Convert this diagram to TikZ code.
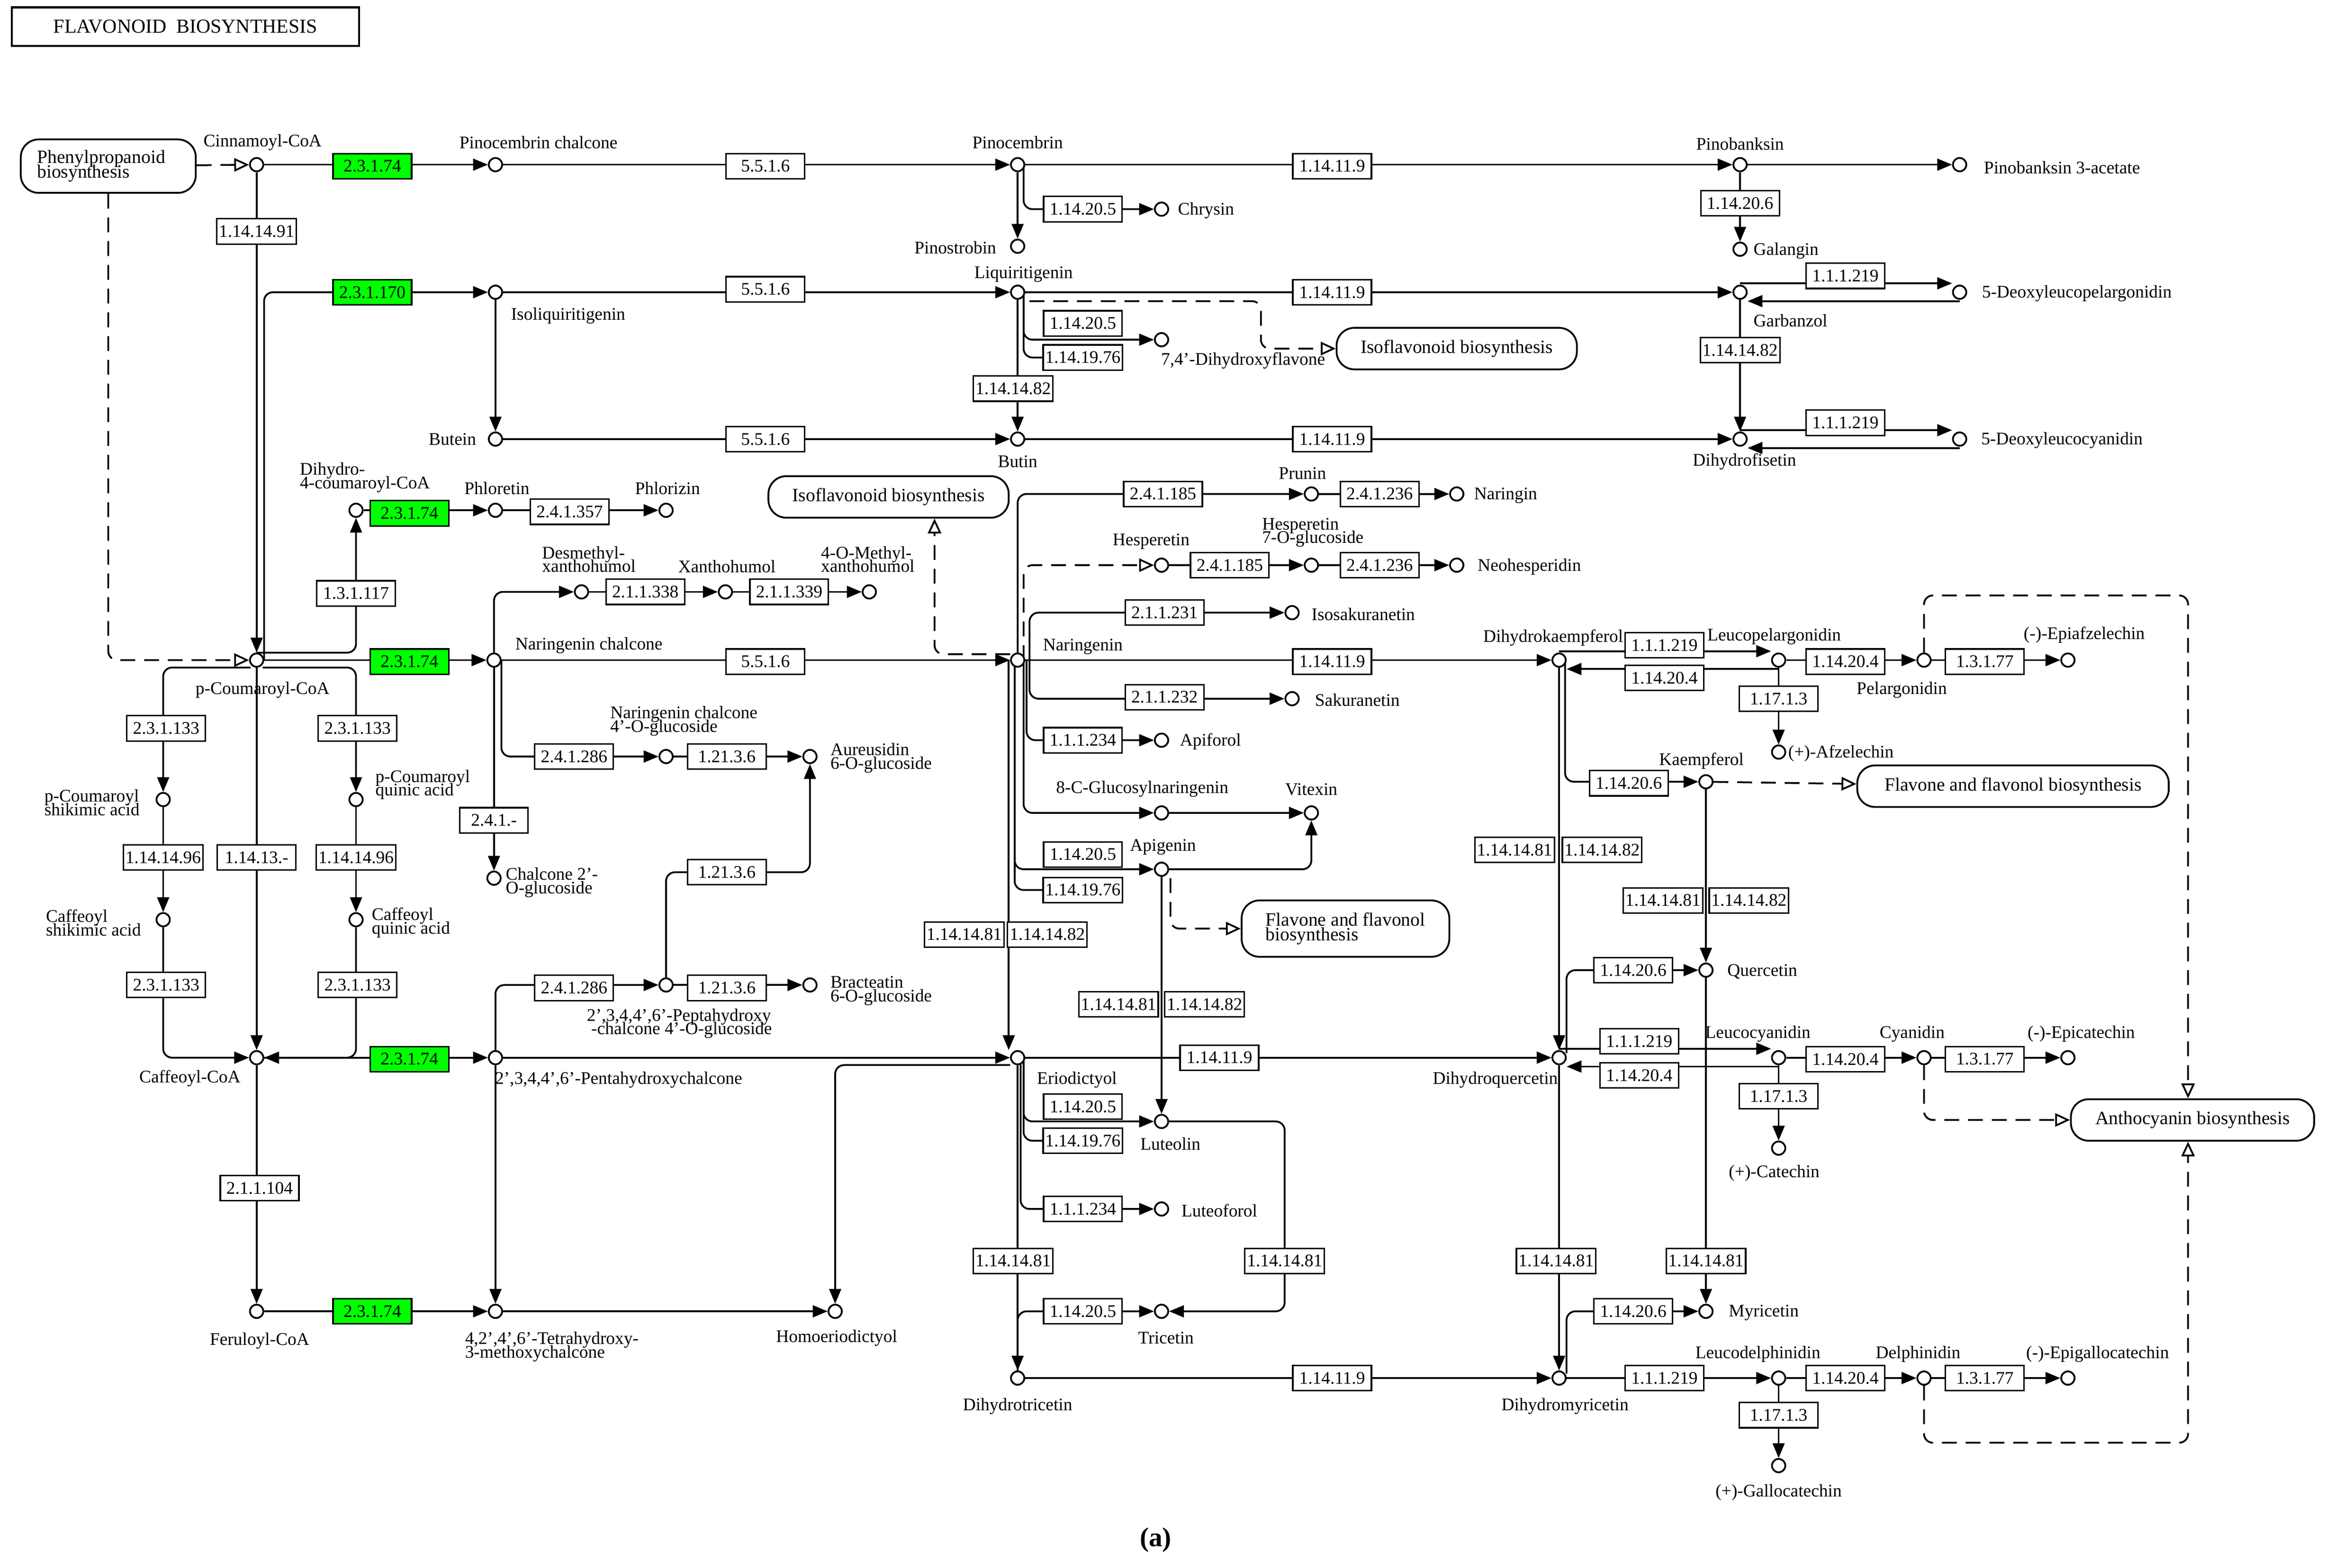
\documentclass[tikz,border=0pt]{standalone}
\usepackage{fontspec}
\setmainfont{Liberation Serif}
\usetikzlibrary{arrows.meta,calc,positioning}
\pgfdeclarelayer{bg}\pgfsetlayers{bg,main}
\tikzset{
 cpd/.style={circle,draw,fill=white,inner sep=0pt,minimum size=0.45cm,line width=0.06cm},
 lab/.style={font=\fontsize{17}{18}\selectfont,inner sep=1pt,align=left},
 enz/.style={draw,fill=white,font=\fontsize{17}{18}\selectfont,inner xsep=2pt,inner ysep=0pt,minimum width=2.65cm,minimum height=0.85cm,line width=0.05cm},
 gen/.style={enz,fill=green},
 map/.style={draw,fill=white,rounded corners=0.6cm,font=\fontsize{18}{19}\selectfont,align=left,line width=0.06cm,inner xsep=0.4cm,minimum height=1.4cm},
 ln/.style={line width=0.06cm,rounded corners=0.3cm},
 arr/.style={ln,-{Triangle[length=0.5cm,width=0.4cm]}},
 dsh/.style={ln,dash pattern=on 0.5cm off 0.3cm,-{Triangle[open,length=0.5cm,width=0.45cm]}}
}
\newcommand{\cp}[6]{\node[cpd] (#1) at (#2,#3) {}; \node[lab] (#1-l) at (#4,#5) {#6};}
\newcommand{\en}[4]{\node[enz] (#1) at (#2,#3) {#4};}
\newcommand{\eg}[4]{\node[gen] (#1) at (#2,#3) {#4};}
\begin{document}
\begin{tikzpicture}[x=0.05cm,y=-0.05cm]
\useasboundingbox (0,0) rectangle (1568,1057);
\begin{pgfonlayer}{bg}
\fill[white] (0,0) rectangle (1568,1057);
\end{pgfonlayer}
\node[draw,line width=0.07cm,minimum width=11.7cm,minimum height=1.3cm,font=\fontsize{19}{20}\selectfont] (title) at (125,18) {FLAVONOID\ \ BIOSYNTHESIS};
\node[lab,font=\fontsize{26}{28}\selectfont\bfseries] (cap) at (779,1038) {(a)};
% maps
\node[map,minimum width=5.9cm,minimum height=1.8cm,text width=4.8cm,font=\fontsize{18}{17}\selectfont] (pp) at (73,112) {Phenylpropanoid\\[-3pt]biosynthesis};
\node[map,minimum width=8.1cm] (iso1) at (982,235) {Isoflavonoid biosynthesis};
\node[map,minimum width=8.1cm] (iso2) at (599,335) {Isoflavonoid biosynthesis};
\node[map,minimum width=10.5cm] (fl1) at (1357,530) {Flavone and flavonol biosynthesis};
\node[map,minimum width=7cm,minimum height=1.9cm,font=\fontsize{18}{17}\selectfont] (fl2) at (907,626) {Flavone and flavonol\\[-3pt]biosynthesis};
\node[map,minimum width=8.2cm] (anth) at (1478,755) {Anthocyanin biosynthesis};
% compounds
\cp{cinn}{173}{111}{177}{96}{Cinnamoyl-CoA}
\cp{pinch}{334}{111}{363}{96}{Pinocembrin chalcone}
\cp{pinoc}{686}{111}{686}{96}{Pinocembrin}
\cp{pinob}{1173}{111}{1173}{97}{Pinobanksin}
\cp{pinob3}{1321}{111}{1390}{113}{Pinobanksin 3-acetate}
\cp{chrys}{783}{141}{813}{142}{Chrysin}
\cp{pinos}{686}{166}{644}{167}{Pinostrobin}
\cp{galang}{1173}{168}{1204}{169}{Galangin}
\cp{isoliq}{334}{197}{383}{213}{Isoliquiritigenin}
\cp{liquir}{686}{197}{690}{185}{Liquiritigenin}
\cp{dhf}{783}{229}{838}{243}{7,4'-Dihydroxyflavone}
\cp{garb}{1173}{197}{1207}{216}{Garbanzol}
\cp{dlp}{1321}{197}{1400}{198}{5-Deoxyleucopelargonidin}
\cp{butein}{334}{296}{305}{296}{Butein}
\cp{butin}{686}{296}{686}{311}{Butin}
\cp{dhfis}{1173}{296}{1176}{311}{Dihydrofisetin}
\cp{dlc}{1321}{296}{1390}{297}{5-Deoxyleucocyanidin}
\cp{dh4c}{240}{344}{246}{322}{Dihydro-\\[-5pt]4-coumaroyl-CoA}
\cp{phloret}{334}{344}{335}{329}{Phloretin}
\cp{phloriz}{449}{344}{450}{329}{Phlorizin}
\cp{prunin}{884}{333}{878}{319}{Prunin}
\cp{naringin}{982}{333}{1015}{334}{Naringin}
\cp{hesp}{783}{381}{776}{365}{Hesperetin}
\cp{hesp7}{884}{381}{885}{359}{\hfil Hesperetin\\[-5pt]7-O-glucoside}
\cp{neoh}{982}{381}{1031}{382}{Neohesperidin}
\cp{desm}{392}{399}{397}{377}{\hfil Desmethyl-\\[-5pt]xanthohumol}
\cp{xanth}{489}{399}{490}{382}{Xanthohumol}
\cp{omx}{586}{399}{585}{377}{\hfil 4-O-Methyl-\\[-5pt]xanthohumol}
\cp{isosak}{871}{413}{919}{414}{Isosakuranetin}
\cp{pcoum}{173}{445}{177}{465}{p-Coumaroyl-CoA}
\cp{narch}{333}{445}{397}{435}{Naringenin chalcone}
\cp{narin}{686}{445}{730}{436}{Naringenin}
\cp{dhk}{1051}{445}{1047}{430}{Dihydrokaempferol}
\cp{leucop}{1199}{445}{1196}{429}{Leucopelargonidin}
\cp{pelarg}{1297}{445}{1282}{465}{Pelargonidin}
\cp{epiafz}{1394}{445}{1405}{428}{(-)-Epiafzelechin}
\cp{sakur}{871}{471}{915}{472}{Sakuranetin}
\cp{apif}{783}{499}{816}{500}{Apiforol}
\cp{afzel}{1199}{507}{1241}{508}{(+)-Afzelechin}
\cp{nc4g}{449}{510}{461}{486}{\hfil Naringenin chalcone\\[-5pt]4'-O-glucoside}
\cp{aur}{546}{510}{594}{511}{Aureusidin\\[-5pt]6-O-glucoside}
\cp{pcshik}{110}{539}{62}{541}{p-Coumaroyl\\[-5pt]shikimic acid}
\cp{pcquin}{240}{539}{285}{529}{p-Coumaroyl\\[-5pt]quinic acid}
\cp{kaemp}{1150}{527}{1147}{513}{Kaempferol}
\cp{cglu}{783}{548}{770}{532}{8-C-Glucosylnaringenin}
\cp{vitex}{884}{548}{884}{532}{Vitexin}
\cp{apig}{783}{586}{784}{571}{Apigenin}
\cp{chal}{333}{592}{372}{595}{Chalcone 2'-\\[-5pt]O-glucoside}
\cp{cafshik}{110}{620}{63}{622}{Caffeoyl\\[-5pt]shikimic acid}
\cp{cafquin}{240}{620}{277}{622}{Caffeoyl\\[-5pt]quinic acid}
\cp{querc}{1150}{654}{1188}{655}{Quercetin}
\cp{bract}{546}{664}{594}{668}{Bracteatin\\[-5pt]6-O-glucoside}
\cp{pept}{449}{664}{458}{690}{2',3,4,4',6'-Peptahydroxy\\[-5pt]\ -chalcone 4'-O-glucoside}
\cp{cafcoa}{173}{713}{128}{727}{Caffeoyl-CoA}
\cp{penta}{334}{713}{417}{728}{2',3,4,4',6'-Pentahydroxychalcone}
\cp{erio}{686}{713}{726}{728}{Eriodictyol}
\cp{dhq}{1051}{713}{1008}{728}{Dihydroquercetin}
\cp{leucoc}{1199}{713}{1185}{697}{Leucocyanidin}
\cp{cyan}{1297}{713}{1289}{697}{Cyanidin}
\cp{epicat}{1394}{713}{1403}{697}{(-)-Epicatechin}
\cp{lut}{783}{756}{789}{771}{Luteolin}
\cp{catech}{1199}{774}{1196}{791}{(+)-Catechin}
\cp{luteof}{783}{815}{822}{816}{Luteoforol}
\cp{ferul}{173}{884}{175}{904}{Feruloyl-CoA}
\cp{tetra}{334}{884}{372}{908}{4,2',4',6'-Tetrahydroxy-\\[-5pt]3-methoxychalcone}
\cp{homoer}{563}{884}{564}{902}{Homoeriodictyol}
\cp{tric}{783}{884}{786}{902}{Tricetin}
\cp{myric}{1150}{884}{1189}{885}{Myricetin}
\cp{dhtric}{686}{929}{686}{948}{Dihydrotricetin}
\cp{dhmyr}{1051}{929}{1055}{948}{Dihydromyricetin}
\cp{leucod}{1199}{929}{1185}{913}{Leucodelphinidin}
\cp{delph}{1297}{929}{1293}{913}{Delphinidin}
\cp{epigal}{1394}{929}{1414}{913}{(-)-Epigallocatechin}
\cp{galloc}{1199}{988}{1199}{1006}{(+)-Gallocatechin}
% enzymes
\eg{g1}{251}{112}{2.3.1.74}
\en{e1}{516}{112}{5.5.1.6}
\en{e2}{898}{112}{1.14.11.9}
\en{e3}{730}{141}{1.14.20.5}
\en{e4}{1173}{137}{1.14.20.6}
\en{e5}{173}{156}{1.14.14.91}
\eg{g2}{251}{197}{2.3.1.170}
\en{e6}{516}{195}{5.5.1.6}
\en{e7}{898}{197}{1.14.11.9}
\en{e8}{730}{218}{1.14.20.5}
\en{e9}{730}{241}{1.14.19.76}
\en{e10}{1244}{186}{1.1.1.219}
\en{e11}{1173}{236}{1.14.14.82}
\en{e12}{683}{262}{1.14.14.82}
\en{e13}{516}{296}{5.5.1.6}
\en{e14}{898}{296}{1.14.11.9}
\en{e15}{1244}{285}{1.1.1.219}
\eg{g3}{276}{346}{2.3.1.74}
\en{e16}{384}{345}{2.4.1.357}
\en{e17}{784}{333}{2.4.1.185}
\en{e18}{930}{333}{2.4.1.236}
\en{e19}{829}{381}{2.4.1.185}
\en{e20}{930}{381}{2.4.1.236}
\en{e21}{240}{400}{1.3.1.117}
\en{e22}{435}{399}{2.1.1.338}
\en{e23}{532}{399}{2.1.1.339}
\en{e24}{785}{413}{2.1.1.231}
\eg{g4}{276}{446}{2.3.1.74}
\en{e25}{516}{446}{5.5.1.6}
\en{e26}{898}{446}{1.14.11.9}
\en{e27}{1122}{435}{1.1.1.219}
\en{e28}{1122}{457}{1.14.20.4}
\en{e29}{1244}{446}{1.14.20.4}
\en{e30}{1338}{446}{1.3.1.77}
\en{e31}{785}{470}{2.1.1.232}
\en{e32}{1199}{471}{1.17.1.3}
\en{e33}{112}{491}{2.3.1.133}
\en{e34}{241}{491}{2.3.1.133}
\en{e35}{730}{499}{1.1.1.234}
\en{e36}{387}{510}{2.4.1.286}
\en{e37}{490}{510}{1.21.3.6}
\en{e38}{1098}{528}{1.14.20.6}
\node[enz,minimum width=2.3cm] (e39) at (333,553) {2.4.1.-};
\en{e40}{110}{578}{1.14.14.96}
\en{e41}{173}{578}{1.14.13.-}
\en{e42}{240}{578}{1.14.14.96}
\en{e43}{730}{576}{1.14.20.5}
\en{e44}{730}{600}{1.14.19.76}
\en{e45}{1021}{573}{1.14.14.81}
\en{e46}{1080}{573}{1.14.14.82}
\en{e47}{490}{588}{1.21.3.6}
\en{e48}{1121}{607}{1.14.14.81}
\en{e49}{1179}{607}{1.14.14.82}
\en{e50}{650}{630}{1.14.14.81}
\en{e51}{706}{630}{1.14.14.82}
\en{e52}{1101}{654}{1.14.20.6}
\en{e53}{112}{664}{2.3.1.133}
\en{e54}{241}{664}{2.3.1.133}
\en{e55}{387}{666}{2.4.1.286}
\en{e56}{490}{666}{1.21.3.6}
\en{e57}{754}{677}{1.14.14.81}
\en{e58}{812}{677}{1.14.14.82}
\en{e59}{1105}{702}{1.1.1.219}
\en{e60}{1105}{725}{1.14.20.4}
\eg{g5}{276}{714}{2.3.1.74}
\en{e61}{822}{713}{1.14.11.9}
\en{e62}{1244}{714}{1.14.20.4}
\en{e63}{1338}{714}{1.3.1.77}
\en{e64}{730}{746}{1.14.20.5}
\en{e65}{730}{769}{1.14.19.76}
\en{e66}{1199}{739}{1.17.1.3}
\en{e67}{175}{801}{2.1.1.104}
\en{e68}{730}{815}{1.1.1.234}
\en{e69}{683}{850}{1.14.14.81}
\en{e70}{866}{850}{1.14.14.81}
\en{e71}{1049}{850}{1.14.14.81}
\en{e72}{1150}{850}{1.14.14.81}
\eg{g6}{251}{884}{2.3.1.74}
\en{e73}{730}{884}{1.14.20.5}
\en{e74}{1101}{884}{1.14.20.6}
\en{e75}{898}{929}{1.14.11.9}
\en{e76}{1122}{929}{1.1.1.219}
\en{e77}{1244}{929}{1.14.20.4}
\en{e78}{1338}{929}{1.3.1.77}
\en{e79}{1199}{954}{1.17.1.3}
% connectors
\begin{pgfonlayer}{bg}
\draw[dsh] (pp) -- (cinn);
\draw[dsh] (pp) |- (pcoum);
\draw[arr] (cinn) -- (pinch);
\draw[arr] (pinch) -- (pinoc);
\draw[arr] (pinoc) -- (pinob);
\draw[arr] (pinob) -- (pinob3);
\draw[arr] ($(pinoc)+(4,0)$) |- (chrys);
\draw[arr] (pinoc) -- (pinos);
\draw[arr] (pinob) -- (galang);
\draw[arr] (cinn) -- (pcoum);
\draw[arr] ($(pcoum)+(5,0)$) |- (isoliq);
\draw[arr] (isoliq) -- (liquir);
\draw[arr] (liquir) -- (garb);
\draw[arr] ($(garb)+(0,-6)$) -- ($(dlp.west)+(0,-6)$);
\draw[arr] ($(dlp)+(0,6)$) -- ($(garb.east)+(0,6)$);
\draw[arr] ($(liquir)+(4,0)$) |- (dhf);
\draw[ln] ($(liquir)+(4,0)$) |- (e9);
\draw[dsh] ($(liquir)+(8,6)$) -- ++(156,0) |- (iso1);
\draw[arr] (liquir) -- (butin);
\draw[arr] (garb) -- (dhfis);
\draw[arr] (isoliq) -- (butein);
\draw[arr] (butein) -- (butin);
\draw[arr] (butin) -- (dhfis);
\draw[arr] ($(dhfis)+(0,-6)$) -- ($(dlc.west)+(0,-6)$);
\draw[arr] ($(dlc)+(0,6)$) -- ($(dhfis.east)+(0,6)$);
\draw[arr] ($(pcoum)+(0,-5)$) -| (dh4c);
\draw[arr] (dh4c) -- (phloret);
\draw[arr] (phloret) -- (phloriz);
\draw[arr] (prunin) -- (naringin);
\draw[arr] (hesp) -- (hesp7);
\draw[arr] (hesp7) -- (neoh);
\draw[arr] (pcoum) -- (narch);
\draw[arr] (narch) -- (narin);
\draw[arr] (narch) |- (desm);
\draw[arr] (desm) -- (xanth);
\draw[arr] (xanth) -- (omx);
\draw[arr] (narch) -- (chal);
\draw[arr] ($(narch)+(5,0)$) |- (nc4g);
\draw[arr] (nc4g) -- (aur);
\draw[ln] (pept) |- (e47);
\draw[arr] (e47) -| (aur);
\draw[arr] (narin) -- (dhk);
\draw[dsh] ($(narin)+(-5,-4)$) -| ($(iso2.south)+(31,0)$);
\draw[arr] (narin) |- (prunin);
\draw[dsh] ($(narin)+(4,0)$) |- (hesp);
\draw[arr] ($(narin)+(8,0)$) |- (isosak);
\draw[arr] ($(narin)+(8,0)$) |- (sakur);
\draw[arr] ($(narin)+(6,0)$) |- (apif);
\draw[arr] ($(narin)+(4,0)$) |- (cglu);
\draw[arr] ($(narin)+(-2,0)$) |- (apig);
\draw[ln] ($(narin)+(-2,0)$) |- (e44);
\draw[arr] ($(narin)+(-6,0)$) -- ($(erio.north)+(-6,0)$);
\draw[arr] (cglu) -- (vitex);
\draw[arr] (apig) -| (vitex);
\draw[dsh] ($(apig)+(6,6)$) |- (fl2);
\draw[arr] (apig) -- (lut);
\draw[arr] ($(dhk)+(0,-6)$) -- ($(leucop.west)+(0,-6)$);
\draw[arr] ($(leucop)+(0,6)$) -- ($(dhk.east)+(0,6)$);
\draw[arr] (leucop) -- (pelarg);
\draw[arr] (pelarg) -- (epiafz);
\draw[arr] (leucop) -- (afzel);
\draw[dsh] (pelarg) |- ($(anth.north)+(-3,-339)$) -- ($(anth.north)+(-3,0)$);
\draw[arr] ($(dhk)+(4,0)$) |- (kaemp);
\draw[dsh] (kaemp) -- (fl1);
\draw[arr] (kaemp) -- (querc);
\draw[arr] (dhk) -- (dhq);
\draw[arr] ($(dhq)+(5,-3)$) |- (querc);
\draw[arr] (querc) -- (myric);
\draw[arr] (dhq) -- (dhmyr);
\draw[arr] ($(dhmyr)+(5,-3)$) |- (myric);
\draw[arr] (erio) -- (dhq);
\draw[arr] ($(dhq)+(0,-6)$) -- ($(leucoc.west)+(0,-6)$);
\draw[arr] ($(leucoc)+(0,6)$) -- ($(dhq.east)+(0,6)$);
\draw[arr] (leucoc) -- (cyan);
\draw[arr] (cyan) -- (epicat);
\draw[arr] (leucoc) -- (catech);
\draw[dsh] (cyan) |- (anth);
\draw[arr] ($(erio)+(4,0)$) |- (lut);
\draw[ln] ($(erio)+(4,0)$) |- (e65);
\draw[arr] ($(erio)+(2,0)$) |- (luteof);
\draw[arr] ($(erio)+(-5,5)$) -| (homoer);
\draw[arr] (erio) -- (dhtric);
\draw[arr] (lut) -| ($(tric)+(83,0)$) -- (tric);
\draw[arr] (dhtric) |- (tric);
\draw[arr] (dhtric) -- (dhmyr);
\draw[arr] (dhmyr) -- (leucod);
\draw[arr] (leucod) -- (delph);
\draw[arr] (delph) -- (epigal);
\draw[arr] (leucod) -- (galloc);
\draw[dsh] (delph) |- ($(anth.south)+(-3,203)$) -- ($(anth.south)+(-3,0)$);
\draw[arr] ($(pcoum)+(-4,5)$) -| (pcshik);
\draw[arr] ($(pcoum)+(4,5)$) -| (pcquin);
\draw[arr] (pcoum) -- (cafcoa);
\draw[arr] (pcshik) -- (cafshik);
\draw[arr] (pcquin) -- (cafquin);
\draw[arr] (cafshik) |- (cafcoa);
\draw[arr] (cafquin) |- (cafcoa);
\draw[arr] (cafcoa) -- (penta);
\draw[arr] (cafcoa) -- (ferul);
\draw[arr] (ferul) -- (tetra);
\draw[arr] (penta) -- (erio);
\draw[arr] (penta) -- (tetra);
\draw[arr] (tetra) -- (homoer);
\draw[arr] (penta) |- (pept);
\draw[arr] (pept) -- (bract);
\end{pgfonlayer}
\end{tikzpicture}
\end{document}
